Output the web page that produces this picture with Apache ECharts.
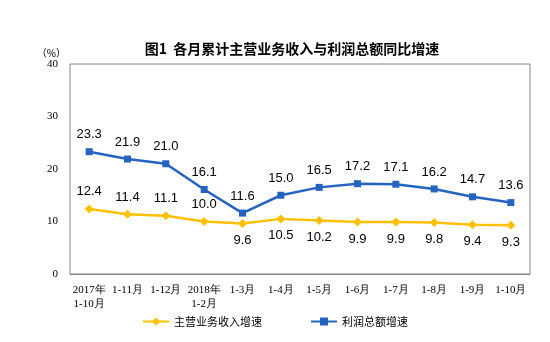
<!DOCTYPE html>
<html><head><meta charset="utf-8">
<script src="https://cdn.jsdelivr.net/npm/echarts@6/dist/echarts.min.js"></script>
<style>html,body{margin:0;padding:0;background:#fff}#c{width:550px;height:342px}</style>
</head><body><div id="c"></div>
<script>
var categories = ['2017年\n1-10月','1-11月','1-12月','2018年\n1-2月','1-3月','1-4月','1-5月','1-6月','1-7月','1-8月','1-9月','1-10月'];
var revenueGrowth = [12.4, 11.4, 11.1, 10.0, 9.6, 10.5, 10.2, 9.9, 9.9, 9.8, 9.4, 9.3];
var profitGrowth = [23.3, 21.9, 21.0, 16.1, 11.6, 15.0, 16.5, 17.2, 17.1, 16.2, 14.7, 13.6];
var revenueLabelBelowFrom = 4;
var seriesNames = ['主营业务收入增速', '利润总额增速'];

var chart = echarts.init(document.getElementById('c'), null, {renderer:'canvas'});
var revData = revenueGrowth.map(function(v,i){
  return {value:v, label:{position: i >= revenueLabelBelowFrom ? 'bottom' : 'top'}};
});
function fmt(p){ return Number(p.value).toFixed(1); }
chart.setOption({
  animation:false,
  title:{text:'图1  各月累计主营业务收入与利润总额同比增速', left:287, top:37, textAlign:'center',
    textStyle:{fontFamily:'Noto Sans CJK SC', fontSize:14, fontWeight:'bold', color:'#000'}},
  grid:{left:70, right:20, top:64, bottom:68, show:true, borderColor:'#888', borderWidth:1, backgroundColor:'transparent'},
  legend:{top:311, left:'center', itemGap:48, itemWidth:26, itemHeight:10,
    textStyle:{fontFamily:'Noto Sans CJK SC', fontSize:11, color:'#000'},
    data:[seriesNames[0], seriesNames[1]]},
  xAxis:{type:'category', data:categories, boundaryGap:true,
    axisLine:{lineStyle:{color:'#888'}},
    axisTick:{inside:true, length:4, lineStyle:{color:'#888'}},
    axisLabel:{fontFamily:'Liberation Serif', fontSize:11, color:'#000', interval:0, margin:9, lineHeight:14}},
  yAxis:{type:'value', min:0, max:40, interval:10,
    name:'（%）', nameLocation:'end', nameGap:4,
    nameTextStyle:{fontFamily:'Noto Sans CJK SC', fontSize:10, color:'#000', align:'right', padding:[0,4,0,0]},
    axisLine:{show:false}, axisTick:{show:false}, splitLine:{show:false},
    axisLabel:{fontFamily:'Liberation Serif', fontSize:11, color:'#000', margin:12}},
  series:[
    {name:seriesNames[0], type:'line', data:revData, symbol:'diamond', symbolSize:9,
      itemStyle:{color:'#FFC000'}, lineStyle:{color:'#FFC000', width:2.5},
      label:{show:true, formatter:fmt, fontFamily:'Liberation Sans', fontSize:13, color:'#000', distance:6}},
    {name:seriesNames[1], type:'line', data:profitGrowth, symbol:'rect', symbolSize:7,
      itemStyle:{color:'#2464C0'}, lineStyle:{color:'#2464C0', width:2.5},
      label:{show:true, formatter:fmt, position:'top', fontFamily:'Liberation Sans', fontSize:13, color:'#000', distance:7}}
  ]
});
</script></body></html>
